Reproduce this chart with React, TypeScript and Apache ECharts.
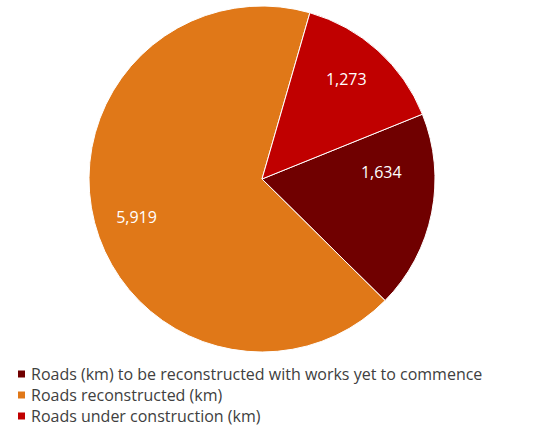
import React, { useEffect, useRef } from "react";
import * as echarts from "echarts";

const categories = [
  "Roads (km) to be reconstructed with works yet to commence",
  "Roads reconstructed (km)",
  "Roads under construction (km)",
];
const values = [1634, 5919, 1273];
const colors = ["#700000", "#E07818", "#C00000"];

export default function App() {
  const ref = useRef<HTMLDivElement>(null);
  useEffect(() => {
    document.body.style.margin = "0";
    const chart = echarts.init(ref.current!, null, { renderer: "svg" });
    const data = categories.map((name, i) => ({
      name,
      value: values[i],
      itemStyle: { color: colors[i] },
    }));
    chart.setOption({
      animation: false,
      backgroundColor: "#ffffff",
      legend: {
        orient: "vertical",
        left: 16,
        top: 365,
        padding: 0,
        itemWidth: 9,
        itemHeight: 9,
        itemGap: 3,
        itemTextGap: 5,
        icon: "rect",
        textStyle: {
          fontFamily: "Open Sans",
          fontSize: 16,
          color: "#404040",
          lineHeight: 18,
        },
        data: categories,
      },
      series: [
        {
          type: "pie",
          center: [262, 179],
          radius: [0, 173],
          startAngle: 22,
          clockwise: true,
          silent: true,
          itemStyle: { borderColor: "#ffffff", borderWidth: 1 },
          label: { show: false },
          labelLine: { show: false },
          data,
        },
        {
          type: "pie",
          center: [262, 179],
          radius: [0, 256],
          startAngle: 24,
          clockwise: true,
          silent: true,
          itemStyle: { color: "transparent", borderWidth: 0 },
          label: {
            show: true,
            position: "inside",
            color: "#ffffff",
            fontFamily: "Open Sans",
            fontSize: 16,
            formatter: (p: any) => p.value.toLocaleString("en-US"),
          },
          labelLine: { show: false },
          data: categories.map((name, i) => ({
            name,
            value: values[i],
            label: i === 0 ? { offset: [-10, -28] } : undefined,
          })),
        },
      ],
    });
    return () => chart.dispose();
  }, []);
  return (
    <div
      ref={ref}
      style={{ position: "fixed", left: 0, top: 0, width: 537, height: 434 }}
    />
  );
}
